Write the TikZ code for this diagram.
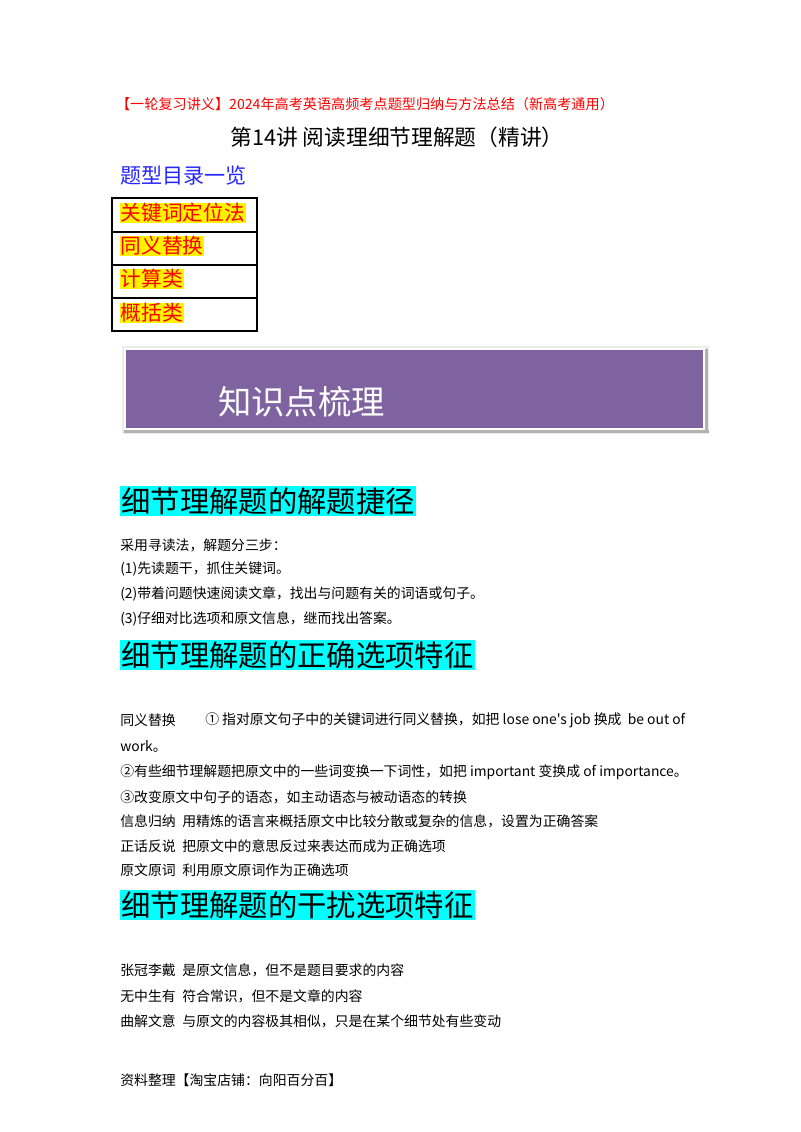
\documentclass[tikz,border=0pt]{standalone}
\usepackage{fontspec}
\setmainfont{Liberation Serif}
\newfontfamily\cjk{Noto Sans CJK SC}
\definecolor{hcyan}{RGB}{0,255,255}
\begin{document}
\begin{tikzpicture}[x=0.75pt,y=-0.75pt,
  body/.style={anchor=west,inner sep=0,font=\cjk\fontsize{10.4}{12}\selectfont},
  hl/.style={anchor=west,inner sep=0.5pt,fill=yellow,text=red,font=\cjk\fontsize{15.5}{17}\selectfont},
  head/.style={anchor=west,inner sep=1pt,fill=hcyan,font=\cjk\fontsize{22}{25}\selectfont}]
\useasboundingbox (0,0) rectangle (800,1132);
\fill[white] (0,0) rectangle (800,1132);
\node[anchor=center,inner sep=0,text=red,font=\cjk\fontsize{10.6}{12}\selectfont] (t1) at (365,104) {【一轮复习讲义】2024年高考英语高频考点题型归纳与方法总结（新高考通用）};
\node[anchor=center,inner sep=0,font=\cjk\fontsize{16.3}{19}\selectfont] (t2) at (397,137) {第14讲\ 阅读理细节理解题（精讲）};
\node[anchor=west,inner sep=0,text=blue!85,font=\cjk\fontsize{15.8}{18}\selectfont] (t3) at (120,176) {题型目录一览};
% table
\draw[line width=0.9pt] (112,198) rectangle (257,331);
\foreach \yy in {232,265,298} \draw[line width=0.9pt] (112,\yy) -- (257,\yy);
\node[hl] (r1) at (120,213) {关键词定位法};
\node[hl] (r2) at (120,246) {同义替换};
\node[hl] (r3) at (120,279) {计算类};
\node[hl] (r4) at (120,313) {概括类};
% banner
\fill[gray!15] (122,346) rectangle (709,434);
\fill[gray!60] (124,430) rectangle (709,433);
\fill[gray!60] (705,349) rectangle (708,433);
\fill[white] (124,348) rectangle (705,430);
\fill[fill={rgb,255:red,127;green,99;blue,160}] (126,350) rectangle (703,428);
\node[anchor=west,inner sep=0,text=white,font=\cjk\fontsize{25}{28}\selectfont] (bn) at (218,402) {知识点梳理};
% section 1
\node[head] (h1) at (120,501) {细节理解题的解题捷径};
\node[body] (a1) at (120,545) {采用寻读法，解题分三步：};
\node[body] (a2) at (120,569) {(1)先读题干，抓住关键词。};
\node[body] (a3) at (120,594) {(2)带着问题快速阅读文章，找出与问题有关的词语或句子。};
\node[body] (a4) at (120,619) {(3)仔细对比选项和原文信息，继而找出答案。};
% section 2
\node[head] (h2) at (120,655) {细节理解题的正确选项特征};
\node[body] (b1) at (120,720) {同义替换};
\node[body] (b1b) at (205,720) {①\ 指对原文句子中的关键词进行同义替换，如把 lose one's job 换成\ \ be out of};
\node[body] (b2) at (120,746) {work。};
\node[body] (b3) at (120,772) {②有些细节理解题把原文中的一些词变换一下词性，如把 important 变换成 of importance。};
\node[body] (b4) at (120,797) {③改变原文中句子的语态，如主动语态与被动语态的转换};
\node[body] (b5) at (120,821) {信息归纳};
\node[body] (b5b) at (182,821) {用精炼的语言来概括原文中比较分散或复杂的信息，设置为正确答案};
\node[body] (b6) at (120,846) {正话反说};
\node[body] (b6b) at (182,846) {把原文中的意思反过来表达而成为正确选项};
\node[body] (b7) at (120,870) {原文原词};
\node[body] (b7b) at (182,870) {利用原文原词作为正确选项};
% section 3
\node[head] (h3) at (120,905) {细节理解题的干扰选项特征};
\node[body] (c1) at (120,970) {张冠李戴};
\node[body] (c1b) at (182,970) {是原文信息，但不是题目要求的内容};
\node[body] (c2) at (120,996) {无中生有};
\node[body] (c2b) at (182,996) {符合常识，但不是文章的内容};
\node[body] (c3) at (120,1021) {曲解文意};
\node[body] (c3b) at (182,1021) {与原文的内容极其相似，只是在某个细节处有些变动};
\node[body] (f) at (120,1080) {资料整理【淘宝店铺：向阳百分百】};
\end{tikzpicture}
\end{document}
